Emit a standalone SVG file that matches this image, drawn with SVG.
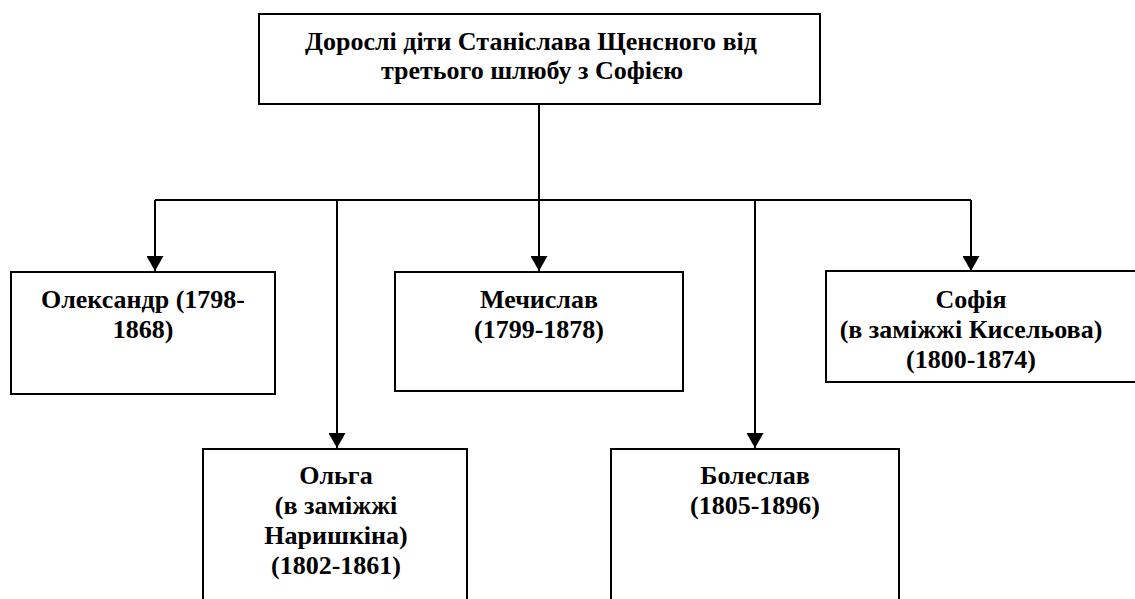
<svg xmlns="http://www.w3.org/2000/svg" width="1135" height="599" viewBox="0 0 1135 599">
<style>
.box{fill:#fff;stroke:#000;stroke-width:2}
.t{font-family:"Liberation Serif","DejaVu Serif","Times New Roman",serif;font-weight:bold;font-size:26px;text-anchor:middle;fill:#000}
.c{fill:none;stroke:#000;stroke-width:2}
</style>
<defs>
<marker id="arr" markerWidth="15" markerHeight="17" refX="15" refY="8.5" orient="auto" markerUnits="userSpaceOnUse" viewBox="0 0 15 17">
<path d="M0,0 L15,8.5 L0,17 Z" fill="#000"/>
</marker>
</defs>
<g id="connectors">
<path class="c" d="M539,104 V200"/>
<path class="c" d="M155,200 H971"/>
<path class="c" d="M155,200 V271" marker-end="url(#arr)"/>
<path class="c" d="M337,200 V448" marker-end="url(#arr)"/>
<path class="c" d="M539,200 V271" marker-end="url(#arr)"/>
<path class="c" d="M755,200 V448" marker-end="url(#arr)"/>
<path class="c" d="M971,200 V271" marker-end="url(#arr)"/>
</g>
<g id="root">
<rect class="box" x="259" y="14" width="561" height="90"/>
<text class="t" font-family="Liberation Serif, serif" x="531" y="50">Дорослі діти Станіслава Щенсного від</text>
<text class="t" font-family="Liberation Serif, serif" x="532" y="79">третього шлюбу з Софією</text>
</g>
<g id="oleksandr">
<rect class="box" x="11" y="272" width="264" height="122"/>
<text class="t" x="143" y="308">Олександр (1798-</text>
<text class="t" x="143" y="338">1868)</text>
</g>
<g id="mechyslav">
<rect class="box" x="395" y="272" width="288" height="119"/>
<text class="t" x="539" y="308">Мечислав</text>
<text class="t" x="539" y="338">(1799-1878)</text>
</g>
<g id="sofiia">
<rect class="box" x="826" y="271" width="310" height="111"/>
<text class="t" x="971" y="308">Софія</text>
<text class="t" x="971" y="338">(в заміжжі Кисельова)</text>
<text class="t" x="971" y="368">(1800-1874)</text>
</g>
<g id="olha">
<rect class="box" x="203" y="449" width="264" height="160"/>
<text class="t" x="336" y="484">Ольга</text>
<text class="t" x="336" y="514">(в заміжжі</text>
<text class="t" x="336" y="544">Наришкіна)</text>
<text class="t" x="336" y="574">(1802-1861)</text>
</g>
<g id="boleslav">
<rect class="box" x="611" y="449" width="288" height="160"/>
<text class="t" x="755" y="484">Болеслав</text>
<text class="t" x="755" y="514">(1805-1896)</text>
</g>
</svg>
